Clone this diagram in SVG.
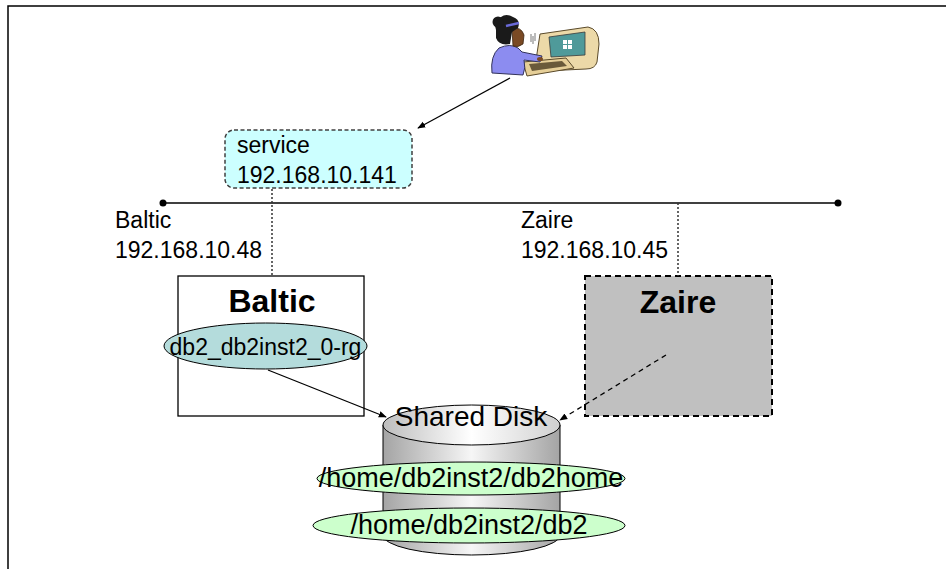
<svg xmlns="http://www.w3.org/2000/svg" width="946" height="569" viewBox="0 0 946 569">
  <defs>
    <style>
      text { font-family: "Liberation Sans", Arial, sans-serif; fill: #000; }
      .lbl { font-size: 23px; }
      .title { font-size: 32px; font-weight: bold; }
      .path { font-size: 27px; }
      .disk { font-size: 28px; }
      .edge { stroke: #000; stroke-width: 1.3; fill: none; }
      .dot { stroke: #333; stroke-width: 1.5; stroke-dasharray: 2 2; fill: none; }
    </style>
    <marker id="arrow" viewBox="0 0 10 10" refX="9" refY="5" markerWidth="8" markerHeight="8" orient="auto" markerUnits="userSpaceOnUse">
      <path d="M0,1 L10,5 L0,9 z" fill="#000"/>
    </marker>
    <linearGradient id="cyl" x1="0" y1="0" x2="1" y2="0">
      <stop offset="0" stop-color="#a4a4a4"/>
      <stop offset="0.5" stop-color="#f6f6f6"/>
      <stop offset="1" stop-color="#a4a4a4"/>
    </linearGradient>
    <linearGradient id="cyltop" x1="0" y1="0" x2="1" y2="0">
      <stop offset="0" stop-color="#bdbdbd"/>
      <stop offset="0.5" stop-color="#ffffff"/>
      <stop offset="1" stop-color="#d0d0d0"/>
    </linearGradient>
  </defs>

  <rect width="946" height="569" fill="#fff"/>
  <!-- page frame -->
  <path d="M8,569 V6 H946" fill="none" stroke="#000" stroke-width="1.5"/>

  <!-- user at workstation -->
  <g id="user">
    <!-- monitor -->
    <path d="M540,34 L588,27 Q599,29 599,44 L597,62 Q595,69 586,69 L544,71 Q535,69 536,60 Z" fill="#ecd9a8" stroke="#5a4a2a" stroke-width="1"/>
    <path d="M549,37 L585,32 L585,55 L551,57 Z" fill="#4f9a9a" stroke="#3a3a3a" stroke-width="0.8"/>
    <g fill="#fff">
      <rect x="563" y="40" width="4" height="4"/>
      <rect x="568" y="40" width="4" height="4"/>
      <rect x="563" y="45" width="4" height="4"/>
      <rect x="568" y="45" width="4" height="4"/>
    </g>
    <!-- keyboard -->
    <path d="M523,62 L566,58 L574,68 L527,76 Z" fill="#e6cf98" stroke="#5a4a2a" stroke-width="1"/>
    <path d="M529,64 L562,61 L567,66 L532,71 Z" fill="#6a5a3a"/>
    <!-- motion marks -->
    <path d="M531,34 V42 M535,33 V41 M533,36 V44" stroke="#555" stroke-width="0.8"/>
    <!-- body -->
    <path d="M492,73 Q490,56 499,48 Q510,43 518,48 L522,52 L542,56 L540,62 L524,60 Q526,68 523,75 Z" fill="#8c8cf0" stroke="#33335a" stroke-width="1"/>
    <!-- face -->
    <path d="M512,29 Q521,26 524,35 L523,44 Q518,48 513,46 Z" fill="#7a4a24" stroke="#3a2410" stroke-width="0.8"/>
    <!-- hair -->
    <path d="M496,30 Q493,20 501,17 Q506,13 513,17 Q521,20 518,28 L512,32 L510,44 Q499,46 496,38 Z" fill="#1a1a1a"/>
    <circle cx="498" cy="22" r="5.5" fill="#1a1a1a"/>
    <path d="M506,26 L519,23" stroke="#6a6ad8" stroke-width="2.5"/>
    <!-- hands -->
    <ellipse cx="540" cy="59" rx="3" ry="2" fill="#7a4a24"/>
  </g>

  <g id="network">
    <line x1="163" y1="203" x2="838" y2="203" stroke="#404040" stroke-width="2"/>
    <circle cx="163" cy="203" r="3.5" fill="#000"/>
    <circle cx="838" cy="203" r="3.5" fill="#000"/>
  </g>

  <g id="service">
    <rect x="225" y="130" width="187" height="58" rx="9" fill="#ccffff" stroke="#404040" stroke-width="1.5" stroke-dasharray="4 2.5"/>
    <text class="lbl" x="237" y="153">service</text>
    <text class="lbl" x="237" y="183">192.168.10.141</text>
  </g>

  <g id="baltic-addr">
    <text class="lbl" x="115" y="228">Baltic</text>
    <text class="lbl" x="115" y="258">192.168.10.48</text>
  </g>

  <g id="zaire-addr">
    <text class="lbl" x="521" y="228">Zaire</text>
    <text class="lbl" x="521" y="258">192.168.10.45</text>
  </g>

  <g id="baltic">
    <rect x="178" y="276" width="186" height="140" fill="#fff" stroke="#000" stroke-width="1.3"/>
    <text class="title" x="272" y="312" text-anchor="middle">Baltic</text>
  </g>

  <g id="zaire">
    <rect x="585" y="276" width="187" height="140" fill="#c0c0c0" stroke="#000" stroke-width="2" stroke-dasharray="6 4"/>
    <text class="title" x="678" y="313" text-anchor="middle">Zaire</text>
  </g>

  <g id="shared-disk">
    <path d="M383,425 V535 A88.5,20 0 0 0 560,535 V425 Z" fill="url(#cyl)" stroke="#000" stroke-width="1"/>
    <ellipse cx="471.5" cy="425" rx="88.5" ry="20" fill="url(#cyltop)" stroke="#000" stroke-width="1"/>
    <text class="disk" x="471" y="426" text-anchor="middle">Shared Disk</text>
  </g>

  <g id="fs-db2home">
    <ellipse cx="471" cy="478.5" rx="154" ry="16.5" fill="#ccffcc" stroke="#000" stroke-width="1"/>
    <text class="path" x="471" y="487" text-anchor="middle">/home/db2inst2/db2home</text>
  </g>

  <g id="fs-db2">
    <ellipse cx="469" cy="525.5" rx="156" ry="17.5" fill="#ccffcc" stroke="#000" stroke-width="1"/>
    <text class="path" x="469" y="534" text-anchor="middle">/home/db2inst2/db2</text>
  </g>

  <g id="resource-group">
    <ellipse cx="265.5" cy="346" rx="101.5" ry="23" fill="#b4dcdc" stroke="#000" stroke-width="1"/>
    <text class="lbl" x="265.5" y="355" text-anchor="middle">db2_db2inst2_0-rg</text>
  </g>

  <g id="connectors">
    <line class="edge" x1="510" y1="78" x2="418" y2="128" marker-end="url(#arrow)"/>
    <line class="dot" x1="272" y1="189" x2="272" y2="276"/>
    <line class="dot" x1="678" y1="203" x2="678" y2="276"/>
    <line class="edge" x1="268" y1="370" x2="386" y2="417" marker-end="url(#arrow)"/>
    <line class="edge" x1="666" y1="355" x2="560" y2="420" stroke-dasharray="5 4" marker-end="url(#arrow)"/>
  </g>
</svg>
